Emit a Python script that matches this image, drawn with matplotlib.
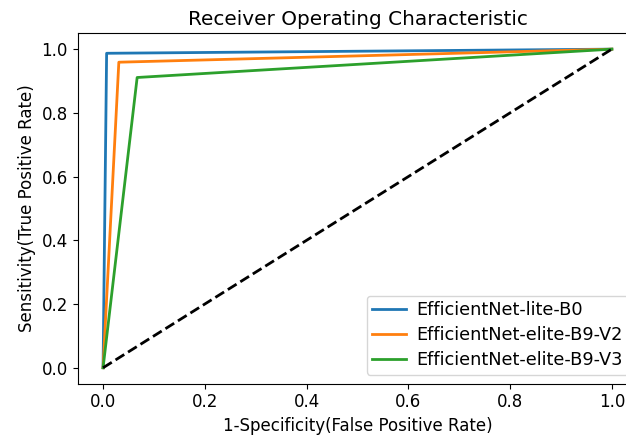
import matplotlib
matplotlib.use("Agg")
import matplotlib.pyplot as plt

# ROC points
labels = ["EfficientNet-lite-B0", "EfficientNet-elite-B9-V2", "EfficientNet-elite-B9-V3"]
fpr_b0 = [0.0, 0.007, 1.0]
tpr_b0 = [0.0, 0.987, 1.0]
fpr_v2 = [0.0, 0.031, 1.0]
tpr_v2 = [0.0, 0.959, 1.0]
fpr_v3 = [0.0, 0.067, 1.0]
tpr_v3 = [0.0, 0.911, 1.0]
ticks = [0.0, 0.2, 0.4, 0.6, 0.8, 1.0]

plt.rcParams['font.size'] = 12

fig = plt.figure(figsize=(6.26, 4.37), dpi=100)
ax = fig.add_axes([0.124, 0.122, 0.894, 0.802])

ax.plot(fpr_b0, tpr_b0, label=labels[0], linewidth=2)
ax.plot(fpr_v2, tpr_v2, label=labels[1], linewidth=2)
ax.plot(fpr_v3, tpr_v3, label=labels[2], linewidth=2)
ax.plot([0, 1], [0, 1], 'k--', linewidth=2)

ax.set_xticks(ticks)
ax.set_yticks(ticks)
ax.set_title("Receiver Operating Characteristic")
ax.set_xlabel("1-Specificity(False Positive Rate)")
ax.set_ylabel("Sensitivity(True Positive Rate)")
ax.legend(loc="lower right", fontsize=12.8, borderpad=0.3, labelspacing=0.4,
          handlelength=1.9, handletextpad=0.6, borderaxespad=0.5)

fig.savefig("out.png", dpi=100)
